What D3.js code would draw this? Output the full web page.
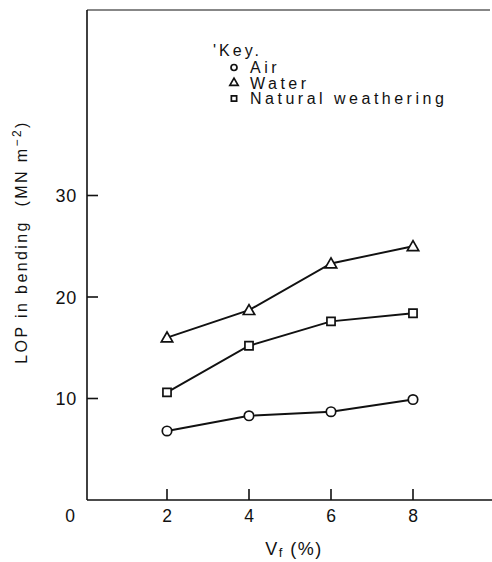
<!DOCTYPE html>
<html>
<head>
<meta charset="utf-8">
<script src="https://cdn.jsdelivr.net/npm/d3@7"></script>
<style>
  html, body { margin: 0; padding: 0; background: #fff; }
  svg { display: block; font-family: "Liberation Sans", Arial, Helvetica, sans-serif; }
</style>
</head>
<body>
<svg id="chart" width="492" height="562"></svg>
<script>
// Fibre volume fraction (%) and limit of proportionality in bending (MN m^-2)
const vf = [2, 4, 6, 8];
const airValues = [6.8, 8.3, 8.7, 9.9];
const waterValues = [16.0, 18.7, 23.3, 25.0];
const weatheringValues = [10.6, 15.2, 17.6, 18.4];
const xTicks = [2, 4, 6, 8];
const yTicks = [10, 20, 30];

const series = [
  { name: "Air", symbol: d3.symbolCircle, values: airValues },
  { name: "Water", symbol: d3.symbolTriangle, values: waterValues },
  { name: "Natural weathering", symbol: d3.symbolSquare, values: weatheringValues }
];

const svg = d3.select("#chart");
const ink = "#111";

const x = d3.scaleLinear().domain([0, 10]).range([85, 495]);
const y = d3.scaleLinear().domain([0, 10]).range([500, 398.5]);
const yTop = 10;
const axisX = 87;

// frame: left axis, bottom axis, top border
svg.append("line").attr("x1", axisX).attr("x2", axisX).attr("y1", yTop).attr("y2", y(0))
  .attr("stroke", ink).attr("stroke-width", 1.6);
svg.append("line").attr("x1", axisX).attr("x2", 492).attr("y1", y(0)).attr("y2", y(0))
  .attr("stroke", ink).attr("stroke-width", 1.6);
svg.append("line").attr("x1", axisX).attr("x2", 490).attr("y1", yTop).attr("y2", yTop)
  .attr("stroke", ink).attr("stroke-width", 1.2);

// x ticks point up into the plot
svg.append("g").selectAll("line").data(xTicks).join("line")
  .attr("x1", d => x(d)).attr("x2", d => x(d))
  .attr("y1", y(0)).attr("y2", y(0) - 11)
  .attr("stroke", ink).attr("stroke-width", 1.6);

svg.append("g").selectAll("text").data([0].concat(xTicks)).join("text")
  .attr("x", d => d === 0 ? 70 : x(d))
  .attr("y", 522)
  .attr("text-anchor", "middle")
  .attr("font-size", 17.5)
  .attr("fill", ink)
  .text(d => d);

// y ticks point right into the plot
svg.append("g").selectAll("line").data(yTicks).join("line")
  .attr("x1", axisX).attr("x2", axisX + 11)
  .attr("y1", d => y(d)).attr("y2", d => y(d))
  .attr("stroke", ink).attr("stroke-width", 1.6);

svg.append("g").selectAll("text").data(yTicks).join("text")
  .attr("x", 77)
  .attr("y", d => y(d) + 6.5)
  .attr("text-anchor", "end")
  .attr("font-size", 18)
  .attr("letter-spacing", 0.8)
  .attr("fill", ink)
  .text(d => d);

// axis titles
const yTitle = svg.append("text")
  .attr("transform", "translate(27,242) rotate(-90)")
  .attr("text-anchor", "middle")
  .attr("font-size", 16)
  .attr("letter-spacing", 2.4)
  .attr("fill", ink);
yTitle.append("tspan").text("LOP in bending\u00a0\u00a0(MN m");
yTitle.append("tspan").attr("font-size", 12).attr("dy", -6).text("−2");
yTitle.append("tspan").attr("dy", 6).text(")");

const xTitle = svg.append("text")
  .attr("x", 294).attr("y", 555)
  .attr("text-anchor", "middle")
  .attr("font-size", 18)
  .attr("letter-spacing", 1.5)
  .attr("fill", ink);
xTitle.append("tspan").text("V");
xTitle.append("tspan").attr("font-size", 13).attr("dy", 2).text("f");
xTitle.append("tspan").attr("dy", -2).text(" (%)");

// lines and markers
const line = d3.line().x((d, i) => x(vf[i])).y(d => y(d));
const markerSize = { Air: 70, Water: 56, "Natural weathering": 66 };

series.forEach(s => {
  svg.append("path")
    .datum(s.values)
    .attr("d", line)
    .attr("fill", "none")
    .attr("stroke", ink)
    .attr("stroke-width", 1.9);
  svg.append("g").selectAll("path").data(s.values).join("path")
    .attr("transform", (d, i) => `translate(${x(vf[i])},${y(d) + (s.symbol === d3.symbolTriangle ? 1 : 0)})`)
    .attr("d", d3.symbol().type(s.symbol).size(markerSize[s.name]))
    .attr("fill", "#fff")
    .attr("stroke", ink)
    .attr("stroke-width", 1.7);
});

// key
const key = svg.append("g");
key.append("text").attr("x", 213).attr("y", 56).attr("font-size", 16).attr("fill", ink)
  .attr("letter-spacing", 3)
  .text("'Key.");
const rows = key.selectAll("g").data(series).join("g")
  .attr("transform", (d, i) => `translate(234,${67.5 + i * 15.5})`);
rows.append("path")
  .attr("d", d => d3.symbol().type(d.symbol).size(d.symbol === d3.symbolTriangle ? 30 : 28)())
  .attr("fill", "#fff").attr("stroke", ink).attr("stroke-width", 1.7);
rows.append("text").attr("x", 16).attr("y", 5.5).attr("font-size", 16).attr("fill", ink)
  .attr("letter-spacing", 3.5)
  .text(d => d.name);
</script>
</body>
</html>
